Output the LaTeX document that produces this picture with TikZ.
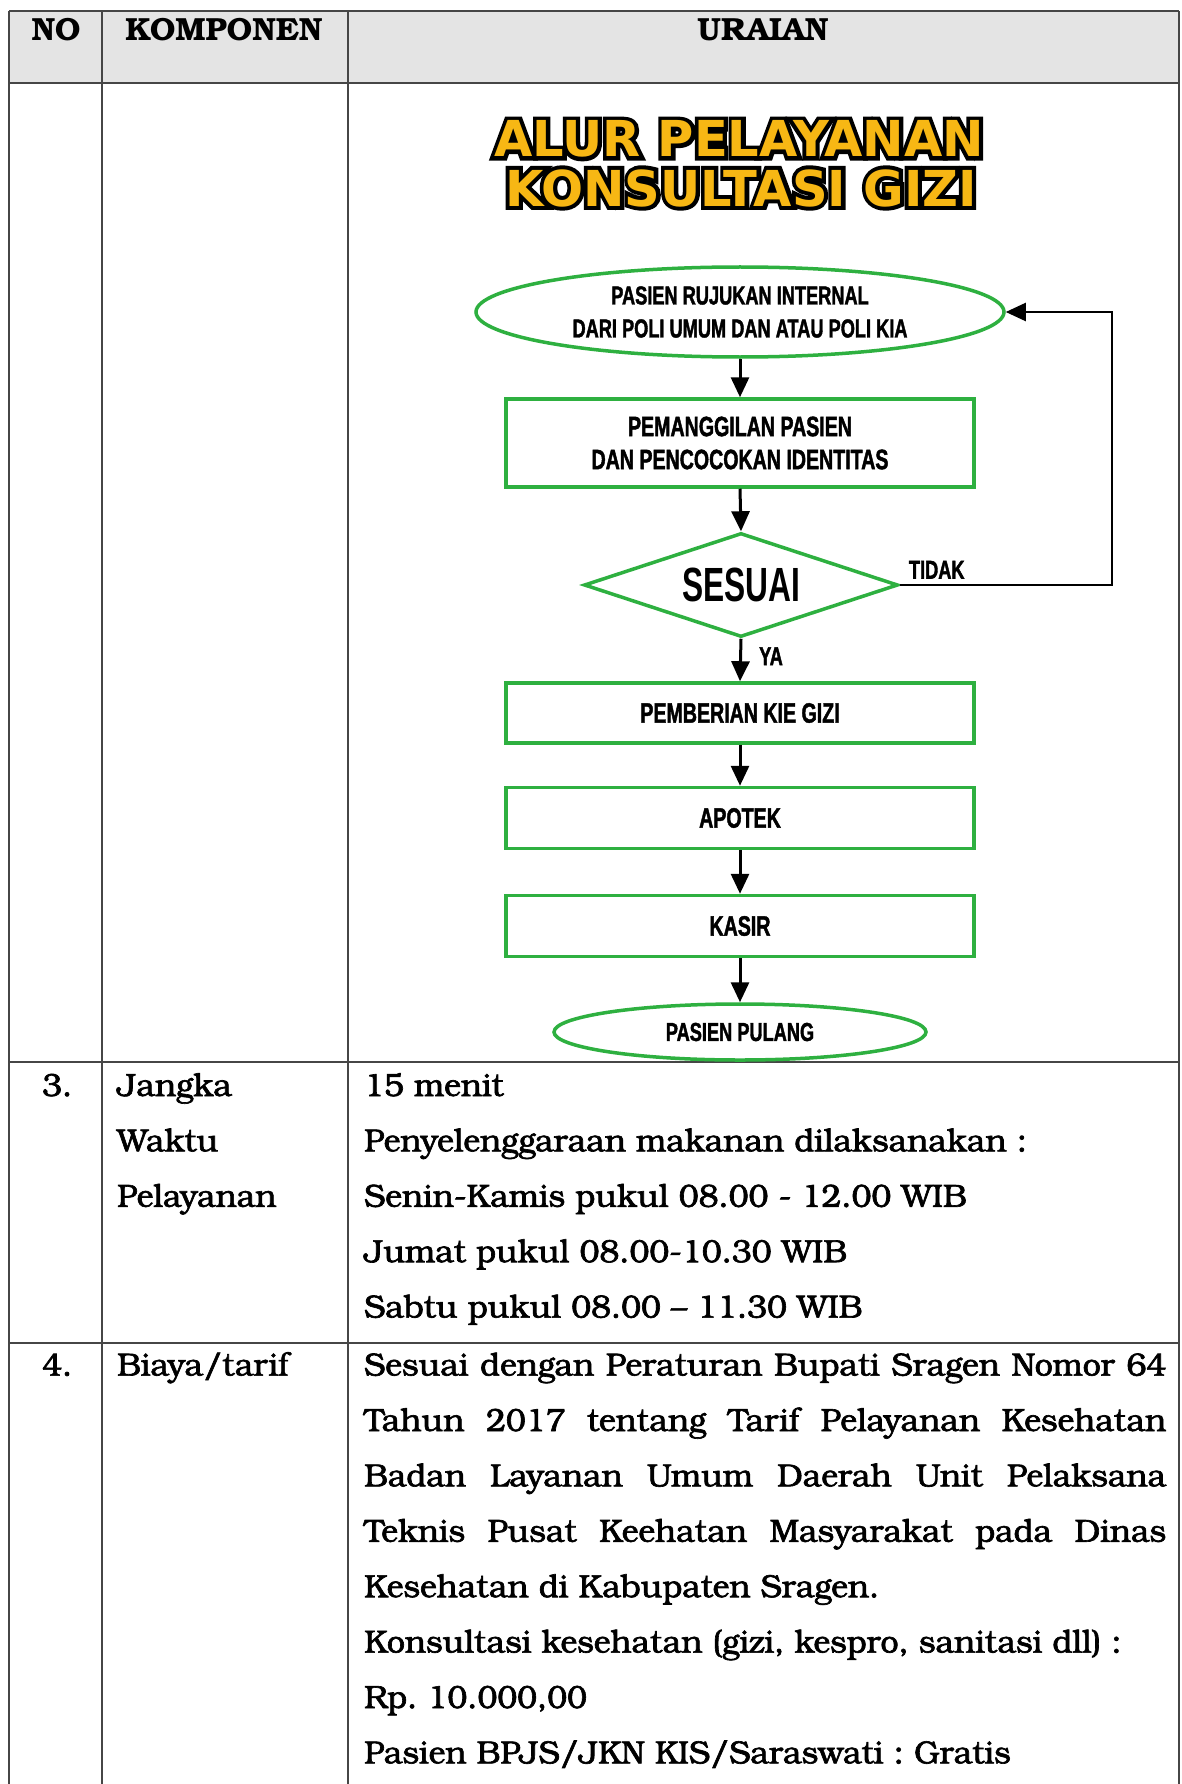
\documentclass[tikz,border=0pt]{standalone}
\usepackage{fontspec}
\usetikzlibrary{shapes.geometric,arrows.meta}
\setmainfont{texgyrebonum}[Extension=.otf, UprightFont=*-regular, BoldFont=*-bold, ItalicFont=*-italic, BoldItalicFont=*-bolditalic, UprightFeatures={FakeBold=2}]
\newfontfamily\flowfont{Liberation Sans}[FakeStretch=0.70, FakeBold=1.5]
\newfontfamily\bigflowfont{Liberation Sans}[FakeStretch=0.66]
\newfontfamily\titlefont{DejaVu Sans}
\newfontfamily\titlehalo{DejaVu Sans}[FakeBold=16]
\frenchspacing

\definecolor{flowgreen}{RGB}{46,176,64}
\definecolor{titleyellow}{RGB}{247,183,20}
\definecolor{headgray}{RGB}{228,228,228}
\definecolor{rulegray}{RGB}{70,70,70}

\tikzset{
  grid/.style={draw=rulegray, line width=1.6pt},
  headtext/.style={anchor=base, inner sep=0pt, font=\fontsize{32}{38}\selectfont\bfseries},
  bodytext/.style={anchor=base west, inner sep=0pt, font=\fontsize{32}{38}\selectfont\frenchspacing},
  titletext/.style={inner sep=0pt, font=\titlefont\bfseries\fontsize{49.5}{56}\selectfont, text=titleyellow},
  titleback/.style={inner sep=0pt, font=\titlehalo\bfseries\fontsize{49.5}{56}\selectfont, text=black},
  flowbox/.style={draw=flowgreen, line width=3.5pt, rectangle, minimum width=468pt, inner sep=0pt, align=center, font=\flowfont\bfseries\fontsize{28}{33}\selectfont},
  flowoval/.style={draw=flowgreen, line width=3.5pt, ellipse, inner sep=0pt, align=center, font=\flowfont\bfseries\fontsize{26}{33}\selectfont},
  flowdecision/.style={draw=flowgreen, line width=3.5pt, diamond, aspect=3.02, inner sep=0pt, minimum width=314pt, minimum height=104pt, font=\bigflowfont\bfseries\fontsize{48}{50}\selectfont},
  flowarrow/.style={draw=black, line width=3pt, -{Triangle[length=20pt,width=18pt]}},
  looparrow/.style={draw=black, line width=2.2pt, -{Triangle[length=20pt,width=18pt]}},
  flowlabel/.style={inner sep=0pt, font=\flowfont\bfseries\fontsize{26}{30}\selectfont},
}

% title line: heavily stroked black copy behind the yellow letters
\newcommand\outlinedline[4]{%
  \node[titleback] (#1-halo) at (#2,#3) {#4};
  \node[titletext] (#1) at (#2,#3) {#4};}

\begin{document}
\begin{tikzpicture}[x=1pt,y=-1pt]
\useasboundingbox (0,0) rectangle (1181,1784);
\fill[white] (0,0) rectangle (1181,1784);

% ---- table frame ----
\fill[headgray] (9,11) rectangle (1179,83);
\draw[grid] (9,11) -- (1179,11);
\draw[grid] (9,83) -- (1179,83);
\draw[grid] (9,1062) -- (1179,1062);
\draw[grid] (9,1343) -- (1179,1343);
\draw[grid] (9,11) -- (9,1784);
\draw[grid] (102,11) -- (102,1784);
\draw[grid] (348,11) -- (348,1784);
\draw[grid] (1179,11) -- (1179,1784);

\node[headtext] (hno) at (56,41) {NO};
\node[headtext] (hkomp) at (224,41) {KOMPONEN};
\node[headtext] (hurai) at (763,41) {URAIAN};

% ---- title ----
\outlinedline{title1}{739}{139}{ALUR PELAYANAN}
\outlinedline{title2}{741}{188}{KONSULTASI GIZI}

% ---- flowchart ----
\node[flowoval, minimum width=528pt, minimum height=90pt] (start) at (740,312)
  {PASIEN RUJUKAN INTERNAL\\DARI POLI UMUM DAN ATAU POLI KIA};
\node[flowbox, minimum height=88pt] (call) at (740,443)
  {PEMANGGILAN PASIEN\\DAN PENCOCOKAN IDENTITAS};
\node[flowdecision] (check) at (741,585) {SESUAI};
\node[flowbox, minimum height=60pt] (kie) at (740,713) {PEMBERIAN KIE GIZI};
\node[flowbox, minimum height=61pt] (apotek) at (740,818) {APOTEK};
\node[flowbox, minimum height=61pt] (kasir) at (740,926) {KASIR};
\node[flowoval, minimum width=372pt, minimum height=56pt] (finish) at (740,1032) {PASIEN PULANG};

\coordinate (loopcorner) at (1112,312);

\draw[flowarrow] (start.south) -- (call.north);
\draw[flowarrow] (call.south) -- (check.north);
\draw[flowarrow] (check.south) -- (kie.north);
\draw[flowarrow] (kie.south) -- (apotek.north);
\draw[flowarrow] (apotek.south) -- (kasir.north);
\draw[flowarrow] (kasir.south) -- (finish.north);
\draw[looparrow] (check.east) -- (check.east -| loopcorner) -- (loopcorner) -- (start.east);

\node[flowlabel, anchor=south west] (tidak) at ([xshift=9pt,yshift=6pt]check.east) {TIDAK};
\node[flowlabel] (ya) at ([xshift=31pt,yshift=25pt]kie.north) {YA};

% ---- row 3 ----
\node[bodytext] (n3) at (42,1096) {3.};
\node[bodytext] (k3a) at (117,1096) {Jangka};
\node[bodytext] (k3b) at (117,1151.4) {Waktu};
\node[bodytext] (k3c) at (117,1206.8) {Pelayanan};
\node[bodytext] (u3a) at (364,1096) {15 menit};
\node[bodytext] (u3b) at (364,1151.4) {Penyelenggaraan makanan dilaksanakan :};
\node[bodytext] (u3c) at (364,1206.8) {Senin-Kamis pukul 08.00 - 12.00 WIB};
\node[bodytext] (u3d) at (364,1262.2) {Jumat pukul 08.00-10.30 WIB};
\node[bodytext] (u3e) at (364,1317.6) {Sabtu pukul 08.00 – 11.30 WIB};

% ---- row 4 ----
\node[bodytext] (n4) at (42,1375.6) {4.};
\node[bodytext] (k4a) at (117,1375.6) {Biaya/tarif};
\node[bodytext] (u4a) at (364,1375.6) {\makebox[802pt][s]{Sesuai dengan Peraturan Bupati Sragen Nomor 64}};
\node[bodytext] (u4b) at (364,1431) {\makebox[802pt][s]{Tahun 2017 tentang Tarif Pelayanan Kesehatan}};
\node[bodytext] (u4c) at (364,1486.4) {\makebox[802pt][s]{Badan Layanan Umum Daerah Unit Pelaksana}};
\node[bodytext] (u4d) at (364,1541.8) {\makebox[802pt][s]{Teknis Pusat Keehatan Masyarakat pada Dinas}};
\node[bodytext] (u4e) at (364,1597.2) {Kesehatan di Kabupaten Sragen.};
\node[bodytext] (u4f) at (364,1652.6) {Konsultasi kesehatan (gizi, kespro, sanitasi dll) :};
\node[bodytext] (u4g) at (364,1708) {Rp. 10.000,00};
\node[bodytext] (u4h) at (364,1763.4) {Pasien BPJS/JKN KIS/Saraswati : Gratis};
\end{tikzpicture}
\end{document}
